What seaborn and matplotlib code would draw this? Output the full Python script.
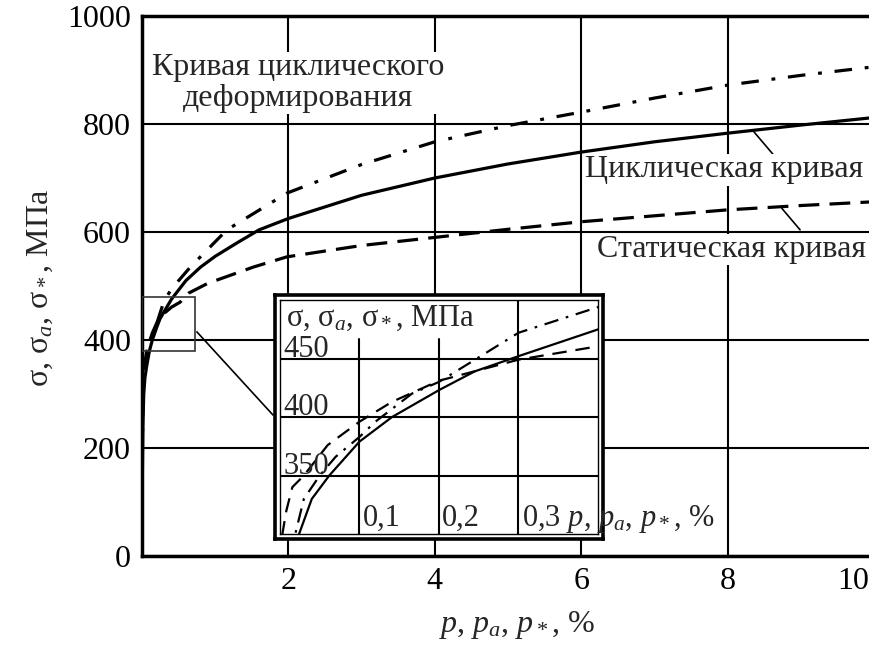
import matplotlib
matplotlib.use("Agg")
import matplotlib.pyplot as plt
import matplotlib.transforms as mtransforms
import seaborn as sns
import pandas as pd
from matplotlib.patches import Rectangle

# Циклическая кривая (сплошная линия)
cyc_p = [0, 0.005, 0.012, 0.024, 0.04, 0.062, 0.1, 0.141, 0.2, 0.245, 0.3, 0.405,
         0.6, 0.8, 1.0, 1.3, 1.6, 2, 3, 4, 5, 6, 7, 8, 9, 10]
cyc_s = [0, 150, 240, 300, 330, 350, 379, 400, 423, 439, 452, 476,
         510, 535, 555, 580, 604, 625, 668, 700, 726, 748, 767, 783, 798, 812]

# Кривая циклического деформирования (штрихпунктир)
def_p = [0, 0.005, 0.012, 0.03, 0.05, 0.07, 0.1, 0.12, 0.166, 0.2, 0.3, 0.405,
         0.66, 1.16, 1.98, 3, 4, 5, 6, 7, 8, 9, 10]
def_s = [0, 200, 280, 330, 350, 366, 383, 396, 420, 430, 472, 495,
         535, 604, 672, 725, 767, 797, 822, 848, 872, 890, 906]

# Статическая кривая (штриховая)
stat_p = [0, 0.003, 0.008, 0.0155, 0.03, 0.06, 0.1, 0.141, 0.2, 0.3, 0.405, 0.52,
          0.64, 0.9, 1.52, 1.98, 3, 4, 5, 6, 7, 8, 9, 10]
stat_s = [0, 300, 320, 340, 350, 376, 396, 413, 431, 449, 461, 470,
          487, 505, 535, 554, 575, 590, 605, 619, 630, 641, 649, 656]

main_xticks = [2, 4, 6, 8, 10]
main_yticks = [0, 200, 400, 600, 800, 1000]
inset_xticks = [0.1, 0.2, 0.3]
inset_xlabels = ["0,1", "0,2", "0,3"]
inset_yticks = [350, 400, 450]

sns.set_theme(style="white")
plt.rcParams["font.family"] = ["Liberation Serif", "DejaVu Serif"]
plt.rcParams["mathtext.fontset"] = "custom"
plt.rcParams["mathtext.rm"] = "Liberation Serif"
plt.rcParams["mathtext.it"] = "Liberation Serif:italic"

W, H = 870, 651
FS = 23
FS_IN = 22


def fig_rect(x0, y0, x1, y1):
    # pixel box -> figure fraction
    return [x0 / W, 1 - y1 / H, (x1 - x0) / W, (y1 - y0) / H]


curves = [
    (cyc_p, cyc_s, "-"),
    (def_p, def_s, "dashdot"),
    (stat_p, stat_s, "dashed"),
]
main_styles = {"-": "-", "dashdot": (0, (5.5, 4, 1.2, 4)), "dashed": (0, (6.5, 3.2))}
inset_styles = {"-": "-", "dashdot": (0, (6.5, 3.5, 1.2, 3.5)), "dashed": (0, (6.5, 4))}

fig = plt.figure(figsize=(W / 100, H / 100), dpi=100)
ax = fig.add_axes(fig_rect(142, 16, 874, 556))

for p, s, key in curves:
    df = pd.DataFrame({"p": p, "s": s})
    sns.lineplot(data=df, x="p", y="s", ax=ax, color="black", lw=2.3,
                 linestyle=main_styles[key], estimator=None, sort=False, zorder=3)

ax.set_xlim(0, 10)
ax.set_ylim(0, 1000)
ax.set_xticks(main_xticks)
ax.set_yticks(main_yticks)
ax.set_xlabel("")
ax.set_ylabel("")
ax.grid(True, color="black", lw=1.5)
ax.tick_params(length=0, labelsize=FS, colors="black", pad=8)
last = ax.get_xticklabels()[-1]
last.set_ha("right")
last.set_transform(last.get_transform() +
                   mtransforms.ScaledTranslation(-5 / 100, 0, fig.dpi_scale_trans))
for sp in ax.spines.values():
    sp.set_color("black")
    sp.set_linewidth(2.5)

# labels of the curves
box = dict(facecolor="white", edgecolor="none", pad=1)
ax.text(2.13, 876, "Кривая циклического\nдеформирования", fontsize=FS, ha="center",
        va="center", linespacing=1.08, bbox=box, zorder=5)
ax.text(7.95, 715, "Циклическая кривая", fontsize=FS, ha="center", va="center",
        bbox=box, zorder=5)
ax.text(8.05, 568, "Статическая кривая", fontsize=FS, ha="center", va="center",
        bbox=box, zorder=5)
ax.plot([8.62, 8.35], [744, 787], color="black", lw=1.2, zorder=4)
ax.plot([8.99, 8.74], [604, 644], color="black", lw=1.2, zorder=4)

# zoomed area marker and connector
ax.add_patch(Rectangle((0, 380), 0.72, 100, fill=False, edgecolor="#333333", lw=1.2, zorder=4))
ax.plot([0.75, 1.79], [415, 261], color="black", lw=1.2, zorder=4)

fig.text(40 / W, 1 - 288 / H, "σ, σ$_a$, σ$_*$, МПа", rotation=90, fontsize=FS,
         ha="center", va="center")
fig.text(517 / W, 1 - 625 / H, "$p$, $p_a$, $p_*$, %", fontsize=FS,
         ha="center", va="center")

# inset: outer thick frame
frame = fig.add_axes(fig_rect(275, 295, 603, 539))
frame.set_xticks([])
frame.set_yticks([])
frame.set_facecolor("white")
for sp in frame.spines.values():
    sp.set_color("black")
    sp.set_linewidth(2.6)

ins = fig.add_axes(fig_rect(280, 300, 598, 534))
for p, s, key in curves:
    df = pd.DataFrame({"p": p, "s": s})
    sns.lineplot(data=df, x="p", y="s", ax=ins, color="black", lw=1.6,
                 linestyle=inset_styles[key], estimator=None, sort=False, zorder=3)
ins.set_xlim(0, 0.4)
ins.set_ylim(300, 500)
ins.set_xticks([])
ins.set_yticks([])
ins.set_xlabel("")
ins.set_ylabel("")
ins.set_facecolor("white")
for sp in ins.spines.values():
    sp.set_color("black")
    sp.set_linewidth(1.0)

for yv in inset_yticks:
    ins.axhline(yv, color="black", lw=1.5, zorder=1)
    ins.text(0.004, yv + 1.5, str(yv), fontsize=FS_IN, ha="left", va="baseline", zorder=4)
for xv, lab in zip(inset_xticks, inset_xlabels):
    top = 1.0 if xv > 0.25 else 0.835
    ins.axvline(xv, ymax=top, color="black", lw=1.5, zorder=1)
    if xv > 0.25:
        lab = lab + " $p$, $p_a$, $p_*$, %"
    ins.text(xv + 0.004, 307, lab, fontsize=FS_IN, ha="left", va="baseline",
             clip_on=False, zorder=4)
ins.text(0.008, 484, "σ, σ$_a$, σ$_*$, МПа", fontsize=FS_IN, ha="left", va="center", zorder=4)

fig.savefig("out.png", dpi=100)
